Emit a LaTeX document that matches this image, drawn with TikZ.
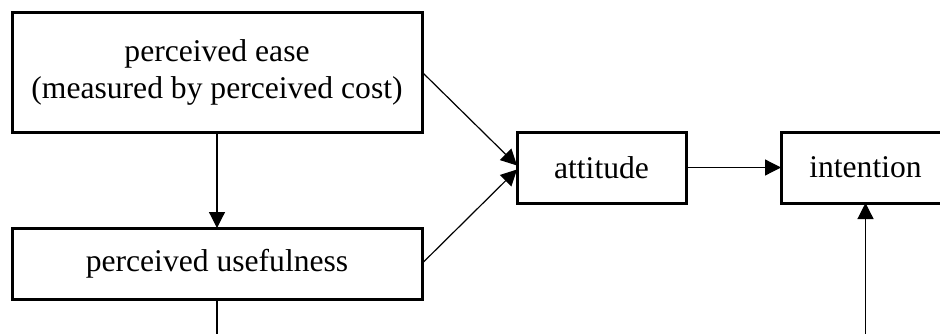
\documentclass[tikz,border=0pt]{standalone}
\usepackage{fontspec}
\setmainfont{Liberation Serif}
\usetikzlibrary{arrows.meta,positioning}

\begin{document}
\begin{tikzpicture}[
		font=\fontsize{15.8}{18.5}\selectfont,
		>={Triangle[length=8pt,width=8pt]},
		node distance=48pt]
	\tikzstyle{box}=[draw,line width=1.5pt,inner sep=0pt,outer sep=0pt,align=center]
	\tikzstyle{link}=[->,line width=0.6pt]
	\clip (0,0) rectangle (470pt,166.5pt);
	\node[box,minimum width=205pt,minimum height=60pt] (ease) at (108.5pt,130.5pt)
		{perceived ease\\(measured by perceived cost)};
	\node[box,minimum width=205pt,minimum height=35.5pt,below=of ease] (useful)
		{perceived usefulness};
	\node[box,minimum width=84.5pt,minimum height=35.5pt] (attitude) at (300.75pt,82.75pt)
		{attitude};
	\node[box,minimum width=84.5pt,minimum height=35.5pt,right=47.5pt of attitude] (intention)
		{intention};
	\coordinate (ufoot) at (108.5pt,-2pt);
	\coordinate (ifoot) at (intention.south |- ufoot);
	% connectors
	\draw[link] (ease) -- (useful);
	\draw[link] (ease.east) -- ([yshift=1pt]attitude.west);
	\draw[link] (useful.east) -- ([yshift=-1pt]attitude.west);
	\draw[link] (attitude) -- (intention);
	\draw[line width=0.6pt] (useful) -- (ufoot);
	\draw[link] (ifoot) -- (intention);
\end{tikzpicture}
\end{document}
